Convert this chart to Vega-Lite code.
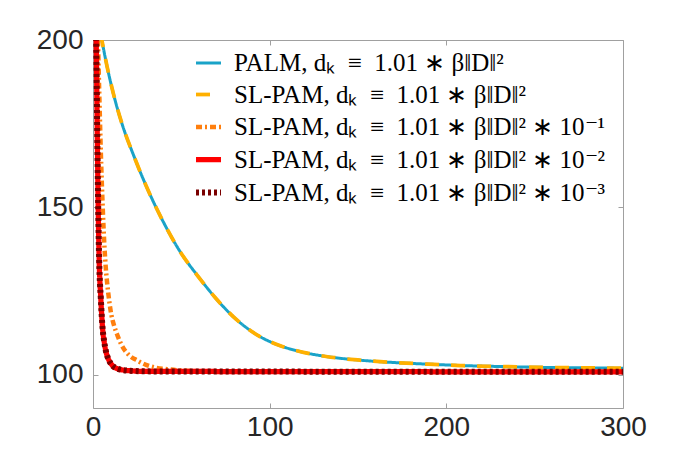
{
  "$schema": "https://vega.github.io/schema/vega-lite/v6.json",
  "width": 530,
  "height": 368,
  "autosize": "none",
  "padding": {"left": 93, "top": 40, "right": 59, "bottom": 45},
  "background": "white",
  "config": {
    "view": {"stroke": "#a0a0a0", "strokeWidth": 1},
    "axis": {
      "domain": false,
      "grid": false,
      "tickColor": "#a0a0a0",
      "tickWidth": 1,
      "tickSize": -5,
      "labelFlush": false,
      "labelFont": "Liberation Sans",
      "labelFontSize": 28,
      "labelColor": "#262626",
      "title": null
    }
  },
  "data": {
    "values": [
      {"s": "a", "x": 4.3, "y": 202}, {"s": "a", "x": 5, "y": 200}, {"s": "a", "x": 8, "y": 192}, {"s": "a", "x": 12, "y": 183}, {"s": "a", "x": 17, "y": 174}, {"s": "a", "x": 23, "y": 165.5}, {"s": "a", "x": 30, "y": 156.5}, {"s": "a", "x": 38, "y": 147.5}, {"s": "a", "x": 49, "y": 137}, {"s": "a", "x": 60, "y": 129}, {"s": "a", "x": 70, "y": 122.5}, {"s": "a", "x": 80, "y": 117}, {"s": "a", "x": 94, "y": 111.5}, {"s": "a", "x": 106, "y": 108.6}, {"s": "a", "x": 117, "y": 106.9}, {"s": "a", "x": 132, "y": 105.4}, {"s": "a", "x": 151, "y": 104.3}, {"s": "a", "x": 170, "y": 103.6}, {"s": "a", "x": 190, "y": 103.1}, {"s": "a", "x": 208, "y": 102.7}, {"s": "a", "x": 230, "y": 102.4}, {"s": "a", "x": 260, "y": 102.1}, {"s": "a", "x": 300, "y": 101.9},
      {"s": "b", "x": 4.3, "y": 202}, {"s": "b", "x": 5, "y": 200}, {"s": "b", "x": 8, "y": 192}, {"s": "b", "x": 12, "y": 183}, {"s": "b", "x": 17, "y": 174}, {"s": "b", "x": 23, "y": 165.5}, {"s": "b", "x": 30, "y": 156.5}, {"s": "b", "x": 38, "y": 147.5}, {"s": "b", "x": 49, "y": 137}, {"s": "b", "x": 60, "y": 129}, {"s": "b", "x": 70, "y": 122.5}, {"s": "b", "x": 80, "y": 117}, {"s": "b", "x": 94, "y": 111.5}, {"s": "b", "x": 106, "y": 108.6}, {"s": "b", "x": 117, "y": 106.9}, {"s": "b", "x": 132, "y": 105.4}, {"s": "b", "x": 151, "y": 104.3}, {"s": "b", "x": 170, "y": 103.6}, {"s": "b", "x": 190, "y": 103.1}, {"s": "b", "x": 208, "y": 102.7}, {"s": "b", "x": 230, "y": 102.4}, {"s": "b", "x": 260, "y": 102.1}, {"s": "b", "x": 300, "y": 101.9},
      {"s": "c", "x": 2.6, "y": 204}, {"s": "c", "x": 2.8, "y": 200}, {"s": "c", "x": 3.5, "y": 185}, {"s": "c", "x": 4.4, "y": 167}, {"s": "c", "x": 5.5, "y": 150}, {"s": "c", "x": 6.5, "y": 138}, {"s": "c", "x": 7.3, "y": 131.5}, {"s": "c", "x": 8.5, "y": 125}, {"s": "c", "x": 10, "y": 119}, {"s": "c", "x": 12, "y": 114.5}, {"s": "c", "x": 14, "y": 111.5}, {"s": "c", "x": 16, "y": 109}, {"s": "c", "x": 20, "y": 106}, {"s": "c", "x": 25, "y": 104.2}, {"s": "c", "x": 30, "y": 102.9}, {"s": "c", "x": 35, "y": 102.1}, {"s": "c", "x": 42, "y": 101.6}, {"s": "c", "x": 50, "y": 101.2}, {"s": "c", "x": 70, "y": 100.9}, {"s": "c", "x": 300, "y": 100.8},
      {"s": "d", "x": 1.6, "y": 206}, {"s": "d", "x": 1.8, "y": 200}, {"s": "d", "x": 2.5, "y": 168}, {"s": "d", "x": 3, "y": 148}, {"s": "d", "x": 3.5, "y": 134}, {"s": "d", "x": 4.4, "y": 123}, {"s": "d", "x": 5.4, "y": 114}, {"s": "d", "x": 6.3, "y": 110}, {"s": "d", "x": 7.3, "y": 107}, {"s": "d", "x": 9, "y": 104.3}, {"s": "d", "x": 11, "y": 102.7}, {"s": "d", "x": 14, "y": 101.7}, {"s": "d", "x": 19.5, "y": 101.2}, {"s": "d", "x": 30, "y": 100.95}, {"s": "d", "x": 300, "y": 100.8},
      {"s": "e", "x": 1.6, "y": 206}, {"s": "e", "x": 1.8, "y": 200}, {"s": "e", "x": 2.5, "y": 168}, {"s": "e", "x": 3, "y": 148}, {"s": "e", "x": 3.5, "y": 134}, {"s": "e", "x": 4.4, "y": 123}, {"s": "e", "x": 5.4, "y": 114}, {"s": "e", "x": 6.3, "y": 110}, {"s": "e", "x": 7.3, "y": 107}, {"s": "e", "x": 9, "y": 104.3}, {"s": "e", "x": 11, "y": 102.7}, {"s": "e", "x": 14, "y": 101.7}, {"s": "e", "x": 19.5, "y": 101.2}, {"s": "e", "x": 30, "y": 100.95}, {"s": "e", "x": 300, "y": 100.8}
    ]
  },
  "layer": [
    {
      "mark": {"type": "line", "clip": true, "interpolate": "monotone", "strokeCap": "butt", "strokeJoin": "miter"},
      "encoding": {
        "x": {"field": "x", "type": "quantitative", "scale": {"domain": [0, 300], "nice": false, "zero": false}, "axis": {"orient": "bottom", "values": [0, 100, 200, 300], "labelPadding": 10}},
        "y": {"field": "y", "type": "quantitative", "scale": {"domain": [90, 200], "nice": false, "zero": false}, "axis": {"orient": "left", "values": [100, 150, 200], "labelPadding": 15}},
        "order": {"field": "x", "type": "quantitative"},
        "color": {
          "field": "s", "type": "nominal",
          "scale": {"domain": ["a", "b", "c", "d", "e"], "range": ["#1aa3c8", "#ffb000", "#ff7f0e", "#ff0000", "#7a0000"]},
          "legend": {
            "orient": "none",
            "legendX": 100,
            "legendY": 9,
            "padding": 0,
            "title": null,
            "symbolType": "stroke",
            "symbolSize": 625,
            "labelFont": "Liberation Serif",
            "labelFontSize": 25,
            "labelColor": "#000000",
            "labelOffset": 10,
            "labelLimit": 600,
            "rowPadding": 4,
            "labelExpr": "datum.label == 'a' ? 'PALM, dₖ\u2002≡\u20021.01 ∗ β‖D‖²' : datum.label == 'b' ? 'SL-PAM, dₖ\u2002≡\u20021.01 ∗ β‖D‖²' : datum.label == 'c' ? 'SL-PAM, dₖ\u2002≡\u20021.01 ∗ β‖D‖² ∗ 10⁻¹' : datum.label == 'd' ? 'SL-PAM, dₖ\u2002≡\u20021.01 ∗ β‖D‖² ∗ 10⁻²' : 'SL-PAM, dₖ\u2002≡\u20021.01 ∗ β‖D‖² ∗ 10⁻³'"
          }
        },
        "strokeDash": {
          "field": "s", "type": "nominal",
          "scale": {"domain": ["a", "b", "c", "d", "e"], "range": [[1, 0], [14, 12], [6, 3, 2, 3], [1, 0], [3, 3]]},
          "legend": null
        },
        "strokeWidth": {
          "field": "s", "type": "nominal",
          "scale": {"domain": ["a", "b", "c", "d", "e"], "range": [3, 6, 3, 4, 5]},
          "legend": null
        }
      }
    },
    {
      "mark": {"type": "point", "opacity": 0},
      "encoding": {
        "x": {"field": "x", "type": "quantitative", "axis": {"orient": "top", "values": [0, 100, 200, 300], "labels": false}},
        "y": {"field": "y", "type": "quantitative", "axis": {"orient": "right", "values": [100, 150, 200], "labels": false}}
      }
    }
  ],
  "resolve": {"axis": {"x": "independent", "y": "independent"}}
}
